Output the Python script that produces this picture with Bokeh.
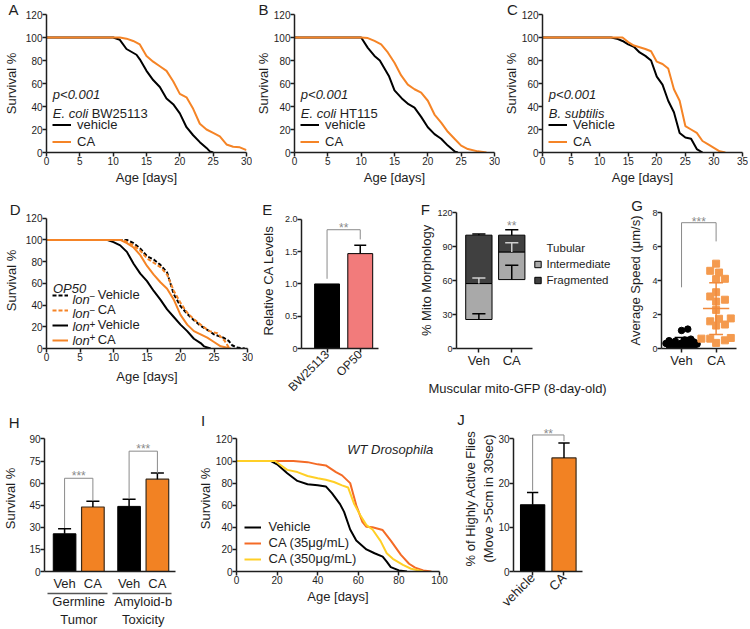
import numpy as np
from math import pi
from bokeh.plotting import figure
from bokeh.layouts import row, column
from bokeh.models import Range1d, FixedTicker, Label, Legend, LegendItem, LinearAxis, Title
from bokeh.core.properties import value
from bokeh.embed import file_html
from bokeh.resources import INLINE

# ---------------- data ----------------
# A: E. coli BW25113
A_veh_day = [0, 10, 11, 12, 13.5, 14, 15, 16, 17, 18, 19, 20, 21, 22, 23, 24, 24.5, 25]
A_veh_surv = [100, 100, 98, 90, 85, 81, 71, 63, 57, 47, 42, 34, 22, 15, 9, 4, 1, 0]
A_ca_day = [0, 11, 12, 13, 14, 15, 16, 17, 18, 19, 20, 21, 22, 23, 24, 25, 26, 27, 28, 29, 30]
A_ca_surv = [100, 100, 99, 97, 94, 84, 79, 75, 71, 62, 51, 48, 38, 25, 20, 17, 14, 7, 5, 4.5, 2]
# B: E. coli HT115
B_veh_day = [0, 10, 11, 12, 12.8, 14.2, 15, 16.1, 17.1, 18, 19, 20, 21, 22, 23, 24, 24.5]
B_veh_surv = [100, 100, 91, 84, 80, 66, 54, 47, 42, 39, 31, 22, 16, 12, 6, 1, 0]
B_ca_day = [0, 10, 11, 12, 13, 14, 15, 16, 17, 18, 19, 20, 21, 22, 23, 24, 25, 26, 27.5, 28.8]
B_ca_surv = [100, 100, 99.5, 97, 94, 87, 78, 67, 59, 55, 52, 45, 33, 26, 18, 12, 6, 3, 1, 0]
# C: B. subtilis
C_veh_day = [0, 12, 13, 14, 15, 16, 17, 18, 19, 20, 21, 22, 23, 24, 25, 26, 27, 28]
C_veh_surv = [100, 100, 99, 97, 94, 92, 87, 84, 80, 66, 59, 45, 35, 17, 13, 12, 3, 0]
C_ca_day = [0, 14, 15, 16, 18, 19, 20, 21, 22, 23, 24, 25, 26, 27, 28, 29, 30, 31, 32]
C_ca_surv = [100, 100, 96, 93, 90, 88, 79, 77, 73, 55, 45, 23, 20, 17, 10, 7, 4, 1, 0]
# D: OP50, lon- / lon+
D_lonm_veh_day = [0, 12, 13, 14, 15, 16, 17, 18, 19, 20, 21, 22, 23, 24.3, 25, 26.4, 27.2, 27.7, 28.4, 29.6]
D_lonm_veh_surv = [100, 100, 97, 92, 85, 82, 77, 70, 50, 39, 32, 26, 21, 16, 13, 10, 7, 3, 1, 0]
D_lonm_ca_day = [0, 11.5, 12, 13, 14, 15, 16, 17, 18, 19, 20, 21, 22, 23, 24.3, 25.5, 26.6, 27.3]
D_lonm_ca_surv = [100, 100, 98, 95, 90, 83, 79, 75, 68, 53, 42, 33, 27, 22, 16, 14, 7, 0]
D_lonp_veh_day = [0, 9, 10, 11, 12, 13, 14, 15, 16, 17, 18, 19, 20, 21, 22, 23, 23.5, 24.5]
D_lonp_veh_surv = [100, 100, 98, 95, 89, 78, 69, 62, 53, 45, 36, 29, 22, 16, 9, 5, 2, 0]
D_lonp_ca_day = [0, 11, 12, 13, 14, 15, 16, 17, 18, 19, 20, 21, 22, 23, 24, 25, 26, 27.5]
D_lonp_ca_surv = [100, 100, 97, 93, 86, 76, 68, 61, 55, 45, 31, 22, 16, 13, 10, 6, 2, 0]
# E: relative CA levels
E_strains = ["BW25113", "OP50"]
E_level = [1.0, 1.47]
E_err = [0.0, 0.13]
E_bracket_low = [1.08, 1.69]
E_bracket_top = 1.84
E_star_y = 1.92
# F: mito morphology (stacked %)
F_groups = ["Veh", "CA"]
F_tubular = [25.6, 60.8]
F_intermediate = [31.7, 24.4]
F_fragmented = [42.7, 14.8]
F_tub_err = [5.0, 12.6]
F_int_err = [5.0, 8.0]
F_frag_err = [1.1, 4.8]
F_star_y = 111.0
# G: average speed (um/s)
G_groups = ["Veh", "CA"]
G_veh = [1.06, 1.14, 0.55, 0.50, 0.46, 0.42, 0.38, 0.35, 0.32, 0.30,
         0.28, 0.25, 0.22, 0.20, 0.18, 0.15, 0.12, 0.10, 0.08, 0.26]
G_ca = [4.99, 4.57, 4.47, 4.08, 4.10, 3.06, 3.31, 2.87, 2.76, 2.27,
        1.75, 1.77, 1.60, 1.41, 1.35, 0.62, 0.58, 0.58, 0.48, 0.33]
G_bracket_low = [3.6, 6.3]
G_bracket_top = 7.4
G_star_y = 7.63
# H: survival %, germline tumor / amyloid-b toxicity
H_group_line1 = ["Germline", "Amyloid-b"]
H_group_line2 = ["Tumor", "Toxicity"]
H_veh = [25.6, 44.2]
H_veh_err = [3.5, 4.8]
H_ca = [43.8, 62.7]
H_ca_err = [3.9, 4.1]
H_bracket_low = [[29.5, 48.1], [49.2, 66.6]]
H_bracket_top = [63.3, 81.7]
H_star_y = [66.6, 85.4]
# I: WT Drosophila lifespan
I_veh_day = [0, 17, 20, 25, 30, 35, 40, 44, 47, 51, 53, 56, 59, 64, 68, 72, 74, 76, 80, 84]
I_veh_surv = [100, 100, 97, 89, 82, 79, 78, 77, 71, 61, 54, 38, 28, 20, 16.5, 13.5, 9, 4, 1, 0]
I_ca35_day = [0, 28, 35, 40, 44, 49, 52, 56, 59, 62, 64, 67, 72, 76, 81, 85, 88, 92, 96]
I_ca35_surv = [100, 100, 99, 97, 96, 90, 87, 80, 60, 45, 40.5, 40, 37.5, 28, 15, 7, 3.5, 1, 0]
I_ca350_day = [0, 19, 22, 25, 30, 35, 40, 44, 48, 52, 55, 58, 61, 64, 67, 71, 74, 77, 82, 86, 92]
I_ca350_surv = [100, 100, 96, 92, 90, 86.5, 84.5, 83, 81, 78, 76, 61, 51, 42, 38, 27.5, 16.5, 11.5, 6, 2.5, 0]
# J: highly active flies
J_groups = ["vehicle", "CA"]
J_val = [15.1, 25.7]
J_err = [2.8, 3.4]
J_bracket_low = [18.3, 29.5]
J_bracket_top = 30.9
J_star_y = 31.9

# ---------------- style ----------------
FONT = "Liberation Sans"
INK = "#1e1e1e"
BLACK = "#000000"
ORANGE = "#F58426"
BAR_ORANGE = "#F28223"
SALMON = "#F27B7B"
PT_ORANGE = "#F49A4E"
MEAN_ORANGE = "#F08A3C"
RED35 = "#F46B26"
YEL350 = "#FFCF26"
LGRAY = "#A9A9A9"
DGRAY = "#404040"
SIG = "#8a8a8a"

GEO = {}


def style_axis(ax, tick_size="10px"):
    ax.axis_line_color = INK
    ax.axis_line_width = 1.5
    ax.major_tick_line_color = INK
    ax.major_tick_line_width = 1.5
    ax.major_tick_in = 0
    ax.major_tick_out = 4
    ax.minor_tick_line_color = None
    ax.major_label_standoff = 0
    ax.major_label_text_font = FONT
    ax.major_label_text_font_size = tick_size
    ax.major_label_text_color = INK
    ax.axis_label_text_font = FONT
    ax.axis_label_text_font_size = "13px"
    ax.axis_label_text_font_style = "normal"
    ax.axis_label_text_color = INK
    ax.axis_label_standoff = 0


def make(cx0, cx1, cy0, cy1, fx0, fx1, fy0, fy1, xr, yr, xticks, yticks, tick_size="10px",
         letter="", letter_x=0, letter_standoff=0.0, ytitle=None, ytitle_standoff=0,
         xtitle=None, xtitle_standoff=0, ybounds=None, xbounds=None):
    p = figure(width=cx1 - cx0, height=cy1 - cy0,
               x_range=Range1d(*xr), y_range=Range1d(*yr),
               min_border_left=fx0 - cx0, min_border_right=cx1 - fx1,
               min_border_top=fy0 - cy0, min_border_bottom=cy1 - fy1,
               toolbar_location=None, output_backend="svg")
    p.outline_line_color = None
    p.background_fill_color = "white"
    p.border_fill_color = "white"
    p.xgrid.visible = False
    p.ygrid.visible = False
    p.xaxis.ticker = FixedTicker(ticks=list(xticks))
    p.yaxis.ticker = FixedTicker(ticks=list(yticks))
    for ax in list(p.xaxis) + list(p.yaxis):
        style_axis(ax, tick_size)
    if ybounds is not None:
        p.yaxis.bounds = ybounds
    if xbounds is not None:
        p.xaxis.bounds = xbounds
    if ytitle:
        p.yaxis.axis_label = ytitle
        p.yaxis.axis_label_standoff = ytitle_standoff
    if xtitle:
        p.xaxis.axis_label = xtitle
        p.xaxis.axis_label_standoff = xtitle_standoff
    t = p.title
    t.text = letter
    t.align = "left"
    t.offset = letter_x - fx0
    t.vertical_align = "bottom"
    t.standoff = letter_standoff
    t.text_font = FONT
    t.text_font_size = "15px"
    t.text_font_style = "normal"
    t.text_color = INK
    GEO[id(p)] = (fx0, fx1, fy0, fy1)
    return p


def to_data(p, px, py):
    fx0, fx1, fy0, fy1 = GEO[id(p)]
    xr, yr = p.x_range, p.y_range
    x = xr.start + (px - fx0) * (xr.end - xr.start) / (fx1 - fx0)
    y = yr.start + (fy1 - py) * (yr.end - yr.start) / (fy1 - fy0)
    return x, y


def text(p, px, py, t, size="13px", style="normal", align="left", baseline="alphabetic", color=INK):
    x, y = to_data(p, px, py)
    p.add_layout(Label(x=x, y=y, text=t, text_font=FONT, text_font_size=size,
                       text_font_style=style, text_align=align, text_baseline=baseline,
                       text_color=color))


def legend(p, entries, loc, gw, ih, standoff, size="13px"):
    lg = Legend(items=[LegendItem(label=t, renderers=[r]) for t, r in entries],
                location=loc, orientation="vertical",
                glyph_width=gw, glyph_height=ih, label_height=ih, label_standoff=standoff,
                spacing=0, padding=0, margin=0,
                border_line_color=None, background_fill_alpha=0.0,
                label_text_font=FONT, label_text_font_size=size, label_text_color=INK)
    p.add_layout(lg)


def error_bars(p, xs, base, err, color=BLACK, half=0.2, width=1.5):
    keep = [(x, b, e) for x, b, e in zip(xs, base, err) if e > 0]
    if not keep:
        return
    x0 = [k[0] for k in keep]
    b0 = [k[1] for k in keep]
    t0 = [k[1] + k[2] for k in keep]
    p.segment(x0=x0, y0=b0, x1=x0, y1=t0, line_color=color, line_width=width)
    p.segment(x0=[x - half for x in x0], y0=t0, x1=[x + half for x in x0], y1=t0,
              line_color=color, line_width=width)


def bracket(p, x0, x1, low0, low1, top, star_y, stars):
    p.line([x0, x0, x1, x1], [low0, top, top, low1], line_color=SIG, line_width=1)
    p.text(x=[(x0 + x1) / 2], y=[star_y], text=[stars], text_align="center", text_baseline="middle",
           y_offset=3, text_font=value(FONT), text_font_size="12px", text_color=SIG)


def bare_axis(**kw):
    ax = LinearAxis(ticker=FixedTicker(ticks=kw.pop("ticks", [])))
    style_axis(ax)
    ax.major_tick_out = 0
    ax.major_tick_line_color = None
    for k, v in kw.items():
        setattr(ax, k, v)
    return ax


def swarm(vals, xpx, ypx, d, step, kmax):
    order = np.argsort(vals)
    placed = []
    offs = [0.0] * len(vals)
    cands = [0]
    for k in range(1, kmax + 1):
        cands += [k, -k]
    for i in order:
        v = vals[i]
        best, best_d = None, -1.0
        for k in cands:
            ox = k * step
            md = min([np.hypot((ox - qx) * xpx, (v - qy) * ypx) for qx, qy in placed] or [1e9])
            if md >= d:
                best = ox
                break
            if md > best_d:
                best_d, best = md, ox
        offs[i] = best
        placed.append((best, v))
    return offs


SURV_Y = [0, 20, 40, 60, 80, 100, 120]


# ================= Row 1 (y 0..194, frames 14..152) =================
def surv_panel(cx0, cx1, fx0, fx1, xmax, xticks, veh, ca, veh_label, letter, letter_x, strain_it,
               strain_rest, rest_dx, ystand):
    p = make(cx0, cx1, 0, 194, fx0, fx1, 14, 152, (0, xmax), (0, 120), xticks, SURV_Y,
             letter=letter, letter_x=letter_x, letter_standoff=-6,
             ytitle="Survival %", ytitle_standoff=ystand, xtitle="Age [days]", xtitle_standoff=2)
    rv = p.line(veh[0], veh[1], line_color=BLACK, line_width=2)
    rc = p.line(ca[0], ca[1], line_color=ORANGE, line_width=2)
    legend(p, [(veh_label, rv), ("CA", rc)], (6, 2.5), 19, 17, 6)
    text(p, fx0 + 6.5, 152 - 58, "p<0.001", style="italic")
    text(p, fx0 + 6.5, 152 - 38.7, strain_it, style="italic")
    if strain_rest:
        text(p, fx0 + 6.5 + rest_dx, 152 - 38.7, strain_rest)
    return p


pA = surv_panel(0, 252, 40, 246, 30, range(0, 31, 5), (A_veh_day, A_veh_surv), (A_ca_day, A_ca_surv),
                "vehicle", "A", 2, "E. coli", "BW25113", 40, 4)
pB = surv_panel(252, 500, 288, 494, 30, range(0, 31, 5), (B_veh_day, B_veh_surv), (B_ca_day, B_ca_surv),
                "vehicle", "B", 252, "E. coli", "HT115", 40, 0)
pC = surv_panel(500, 748, 536, 742, 35, range(0, 36, 5), (C_veh_day, C_veh_surv), (C_ca_day, C_ca_surv),
                "Vehicle", "C", 500.5, "B. subtilis", "", 0, 0)

# ================= Row 2 (y 194..407, common frame top 212) =================
R2T = 212
# D (120 tick at y=218, 0 at 355)
D_ytop = 120 + (218 - R2T) * 120 / (355 - 218)
pD = make(0, 253, 194, 407, 40, 247, R2T, 355, (0, 30), (0, D_ytop), range(0, 31, 5), SURV_Y,
          letter="D", letter_x=3.3, letter_standoff=-11.8, ytitle="Survival %", ytitle_standoff=4,
          xtitle="Age [days]", xtitle_standoff=5, ybounds=(0, 120))
r1 = pD.line(D_lonm_veh_day, D_lonm_veh_surv, line_color=BLACK, line_width=2, line_dash="4 2")
r2 = pD.line(D_lonm_ca_day, D_lonm_ca_surv, line_color=ORANGE, line_width=2, line_dash="4 2")
r3 = pD.line(D_lonp_veh_day, D_lonp_veh_surv, line_color=BLACK, line_width=2)
r4 = pD.line(D_lonp_ca_day, D_lonp_ca_surv, line_color=ORANGE, line_width=2)
legend(pD, [("Vehicle", r1), ("CA", r2), ("Vehicle", r3), ("CA", r4)], (5.7, 1), 16, 14, 30)
for yc, sign in [(51.75, "\u2212"), (37.25, "\u2212"), (22.75, "+"), (8.25, "+")]:
    text(pD, 40 + 26.7, 355 - yc, "lon", style="italic", baseline="middle")
    text(pD, 40 + 44.3, 355 - yc - 3.5, sign, size="10px", baseline="middle")
text(pD, 40 + 6.7, 355 - 63.3, "OP50", style="italic")

# E (2.0 tick at y=219, 0 at 350)
E_ytop = 2 + (219 - R2T) * 2 / (350 - 219)
pE = make(253, 416, 194, 407, 301, 378, R2T, 350, (-0.77, 1.55), (0, E_ytop), [0, 1], [0, 0.5, 1, 1.5, 2],
          "9px", letter="E", letter_x=261.7, letter_standoff=-11.8, ytitle="Relative CA Levels",
          ytitle_standoff=6, ybounds=(0, 2))
pE.yaxis.major_label_overrides = {0: "0", 0.5: "0.5", 1: "1.0", 1.5: "1.5", 2: "2.0"}
pE.xaxis.major_label_overrides = {i: s for i, s in enumerate(E_strains)}
pE.xaxis.major_label_orientation = pi / 4
pE.xaxis.major_label_text_font_size = "12px"
ex = list(range(len(E_strains)))
pE.vbar(x=ex, top=E_level, width=0.75, fill_color=[BLACK, SALMON], line_color=BLACK, line_width=1)
error_bars(pE, ex, E_level, E_err, half=0.18)
bracket(pE, 0, 1, E_bracket_low[0], E_bracket_low[1], E_bracket_top, E_star_y, "**")

# F (frame widened to hold the legend; axis line limited to the bars' region)
F_xend = 1 + (616 - 508.7) / 33.7
pF = make(416, 625, 194, 407, 453, 616, R2T, 351, (-0.68, F_xend), (0, 120), [0, 1], [0, 30, 60, 90, 120],
          "9px", letter="F", letter_x=417.3, letter_standoff=-11.8, ytitle="% Mito Morphology",
          ytitle_standoff=0, xbounds=(-0.68, 1.63))
pF.xaxis.major_label_overrides = {i: s for i, s in enumerate(F_groups)}
pF.xaxis.major_label_text_font_size = "13px"
fx = list(range(len(F_groups)))
int_top = [a + b for a, b in zip(F_tubular, F_intermediate)]
frag_top = [a + b for a, b in zip(int_top, F_fragmented)]
pF.vbar(x=fx, bottom=0, top=F_tubular, width=0.8, fill_color="white", line_color=None)
pF.vbar(x=fx, bottom=F_tubular, top=int_top, width=0.8, fill_color=LGRAY, line_color=BLACK, line_width=1)
pF.vbar(x=fx, bottom=int_top, top=frag_top, width=0.8, fill_color=DGRAY, line_color=BLACK, line_width=1)
error_bars(pF, fx, F_tubular, F_tub_err, color=BLACK, half=0.2)
error_bars(pF, fx, int_top, F_int_err, color="#cfcfcf", half=0.2)
error_bars(pF, fx, frag_top, F_frag_err, color=BLACK, half=0.2)
pF.text(x=[1], y=[F_star_y], text=["**"], text_align="center", text_baseline="middle", y_offset=3,
        text_font=value(FONT), text_font_size="12px", text_color=SIG)
# legend swatches (one NaN point each, so nothing is drawn in the plot area)
k_t = pF.scatter(x=[np.nan], y=[np.nan], marker="square", size=7, fill_color=None, line_color=None)
k_i = pF.scatter(x=[np.nan], y=[np.nan], marker="square", size=7, fill_color=LGRAY, line_color=BLACK)
k_f = pF.scatter(x=[np.nan], y=[np.nan], marker="square", size=7, fill_color=DGRAY, line_color=BLACK)
legend(pF, [("Tubular", k_t), ("Intermediate", k_i), ("Fragmented", k_f)], (72.5, 60), 17, 16, 1,
       size="11.5px")
pF.add_layout(Title(text="Muscular mito-GFP (8-day-old)", align="left", offset=425 - 453,
                    vertical_align="top", standoff=20, text_font=FONT, text_font_size="13px",
                    text_font_style="normal", text_color=INK), "below")

# G
pG = make(625, 748, 194, 407, 656, 736, R2T, 350, (-0.58, 1.59), (0, 8), [0, 1], [0, 2, 4, 6, 8], "9px",
          letter="G", letter_x=625.7, letter_standoff=-2, ytitle="Average Speed (\u03bcm/s)",
          ytitle_standoff=6)
pG.xaxis.major_label_overrides = {i: s for i, s in enumerate(G_groups)}
pG.xaxis.major_label_text_font_size = "13px"
gxpx = 80 / (1.59 + 0.58)
gypx = 138 / 8
veh_off = swarm(G_veh, gxpx, gypx, 6.0, 0.09, 5)
ca_off = swarm(G_ca, gxpx, gypx, 7.0, 0.085, 5)
pG.scatter(x=[0 + o for o in veh_off], y=G_veh, marker="circle", size=6.5, fill_color=BLACK, line_color=BLACK)
pG.scatter(x=[1 + o for o in ca_off], y=G_ca, marker="square", size=7, fill_color=PT_ORANGE,
           line_color=PT_ORANGE)
for i, (vals, col) in enumerate([(G_veh, BLACK), (G_ca, MEAN_ORANGE)]):
    m = float(np.mean(vals))
    s = float(np.std(vals, ddof=1))
    pG.segment(x0=[i - 0.38, i, i - 0.2, i - 0.2], y0=[m, m - s, m - s, m + s],
               x1=[i + 0.38, i, i + 0.2, i + 0.2], y1=[m, m + s, m - s, m + s],
               line_color=col, line_width=1.5)
bracket(pG, 0, 1, G_bracket_low[0], G_bracket_low[1], G_bracket_top, G_star_y, "***")

# ================= Row 3 (y 407..629, common frame top 425) =================
R3T = 425
# H (90 tick at y=439, 0 at 577)
H_pos = [0, 1, 2.28, 3.28]
H_ytop = 90 + (439 - R3T) * 90 / (577 - 439)
pH = make(0, 194, 407, 629, 39, 175, R3T, 577, (-0.71, 3.92), (0, H_ytop), H_pos,
          [0, 15, 30, 45, 60, 75, 90], letter="H", letter_x=3.3, letter_standoff=-11,
          ytitle="Survival %", ytitle_standoff=8, ybounds=(0, 90))
pH.xaxis.major_label_overrides = {H_pos[0]: "Veh", H_pos[1]: "CA", H_pos[2]: "Veh", H_pos[3]: "CA"}
pH.xaxis.major_label_text_font_size = "13px"
pH.xaxis.major_tick_line_color = None
veh_x = [H_pos[0], H_pos[2]]
ca_x = [H_pos[1], H_pos[3]]
pH.vbar(x=veh_x, top=H_veh, width=0.8, fill_color=BLACK, line_color=BLACK, line_width=1)
pH.vbar(x=ca_x, top=H_ca, width=0.8, fill_color=BAR_ORANGE, line_color="#3a2a1a", line_width=1.2)
error_bars(pH, veh_x, H_veh, H_veh_err, half=0.23)
error_bars(pH, ca_x, H_ca, H_ca_err, half=0.23)
mids = []
for g in range(2):
    bracket(pH, veh_x[g], ca_x[g], H_bracket_low[g][0], H_bracket_low[g][1], H_bracket_top[g],
            H_star_y[g], "***")
    mids.append((veh_x[g] + ca_x[g]) / 2)
    pH.add_layout(bare_axis(bounds=(veh_x[g] - 0.6, ca_x[g] + 0.5), axis_line_color="#555555",
                            axis_line_width=1.3), "below")
pH.add_layout(bare_axis(ticks=mids, axis_line_color=None, major_label_text_font_size="13px",
                        major_label_overrides={mids[0]: H_group_line1[0], mids[1]: H_group_line1[1]}),
              "below")
pH.add_layout(bare_axis(ticks=mids, axis_line_color=None, major_label_text_font_size="13px",
                        major_label_overrides={mids[0]: H_group_line2[0], mids[1]: H_group_line2[1]}),
              "below")

# I (120 tick at y=439, 0 at 577)
I_ytop = 120 + (439 - R3T) * 120 / (577 - 439)
pI = make(194, 450, 407, 629, 231, 439, R3T, 577, (0, 100), (0, I_ytop), range(0, 101, 20), SURV_Y,
          letter="I", letter_x=195.5, letter_standoff=-7, ytitle="Survival %", ytitle_standoff=0,
          xtitle="Age [days]", xtitle_standoff=2, ybounds=(0, 120))
ri1 = pI.line(I_veh_day, I_veh_surv, line_color=BLACK, line_width=2)
ri2 = pI.line(I_ca35_day, I_ca35_surv, line_color=RED35, line_width=2)
ri3 = pI.line(I_ca350_day, I_ca350_surv, line_color=YEL350, line_width=2)
legend(pI, [("Vehicle", ri1), ("CA (35\u03bcg/mL)", ri2), ("CA (350\u03bcg/mL)", ri3)], (7.6, 4.2), 17, 16, 8)
text(pI, 432.6, 450, "WT Drosophila", style="italic", align="right")

# J (30 tick at y=439, 0 at 577)
J_ytop = 30 + (439 - R3T) * 30 / (577 - 439)
pJ = make(450, 748, 407, 629, 513, 582, R3T, 577, (-0.61, 1.59), (0, J_ytop), [0, 1], [0, 10, 20, 30],
          letter="J", letter_x=456.7, letter_standoff=-4.4, ybounds=(0, 30))
pJ.yaxis.major_label_standoff = 0
pJ.xaxis.major_label_overrides = {i: s for i, s in enumerate(J_groups)}
pJ.xaxis.major_label_orientation = pi / 4
pJ.xaxis.major_label_text_font_size = "13px"
pJ.add_layout(bare_axis(axis_line_color=None, axis_label="(Move >5cm in 30sec)", bounds=(0, 30)), "left")
pJ.add_layout(bare_axis(axis_line_color=None, axis_label="% of Highly Active Flies", bounds=(0, 30)), "left")
jx = list(range(len(J_groups)))
pJ.vbar(x=jx, top=J_val, width=0.77, fill_color=[BLACK, BAR_ORANGE], line_color=[BLACK, "#3a2a1a"],
        line_width=1.2)
error_bars(pJ, jx, J_val, J_err, half=0.18)
bracket(pJ, 0, 1, J_bracket_low[0], J_bracket_low[1], J_bracket_top, J_star_y, "**")

layout = column(row(pA, pB, pC), row(pD, pE, pF, pG), row(pH, pI, pJ))
with open("out.html", "w") as f:
    f.write(file_html(layout, INLINE))
